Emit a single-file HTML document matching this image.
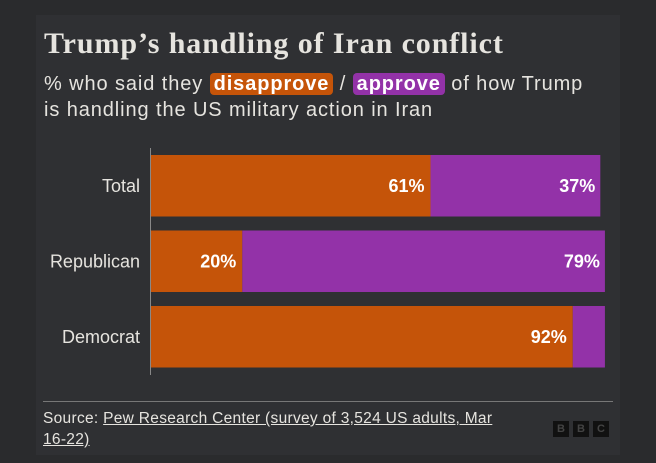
<!DOCTYPE html>
<html><head><meta charset="utf-8"><style>
body{margin:0;width:656px;height:463px;background:#2a2b2d;overflow:hidden;font-family:"Liberation Sans",sans-serif;color:#e6e4df}
#panel{position:absolute;left:36px;top:15px;width:584px;height:440px;background:#2f3033}
#title{position:absolute;left:8px;top:12px;font-family:"Liberation Serif",serif;font-size:30px;font-weight:bold;letter-spacing:0.9px;white-space:nowrap}
#sub{position:absolute;left:8px;top:56px;font-size:20px;line-height:26px;letter-spacing:0.9px;width:580px;white-space:nowrap}
.pill{color:#fff;font-weight:bold;padding:0 4px;border-radius:4px}
#src{position:absolute;left:7px;top:393px;font-size:15.5px;line-height:21px;letter-spacing:0.3px;width:500px;white-space:nowrap}
#src u{text-decoration:underline}
#rule{position:absolute;left:7px;top:386px;width:570px;height:1px;background:#777}
.b{position:absolute;top:406px;width:16px;height:16px;background:#111;color:#444;font-size:11px;font-weight:bold;text-align:center;line-height:16px}
</style></head><body>
<div id="panel">
<div id="title">Trump’s handling of Iran conflict</div>
<div id="sub">% who said they <span class="pill" style="background:#c55409">disapprove</span> / <span class="pill" style="background:#9332a8">approve</span> of how Trump<br>is handling the US military action in Iran</div>
<div id="rule"></div>
<div id="src">Source: <u>Pew Research Center (survey of 3,524 US adults, Mar<br>16-22)</u></div>
<div class="b" style="left:517px">B</div>
<div class="b" style="left:537px">B</div>
<div class="b" style="left:557px">C</div>
</div>
<svg id="chart" width="656" height="463" style="position:absolute;left:0;top:0"></svg>
<script>
const categories=["Total","Republican","Democrat"];
const disapprove=[61,20,92];
const approve=[37,79,7];
const NS="http://www.w3.org/2000/svg";
const svg=document.getElementById('chart');
const x0=150.5,unit=4.59;
const xs=v=>x0+v*unit;
const yTop=i=>155+i*75.5, bh=61.5;
function mk(tag,attrs){const e=document.createElementNS(NS,tag);for(const k in attrs)e.setAttribute(k,attrs[k]);svg.appendChild(e);return e;}
categories.forEach((c,i)=>{
  const y=yTop(i);
  const r1=mk('rect',{x:xs(0),y:y,width:xs(disapprove[i])-xs(0),height:bh,fill:'#c55409'});
  
  
  const r2=mk('rect',{x:xs(disapprove[i]),y:y,width:xs(disapprove[i]+approve[i])-xs(disapprove[i]),height:bh,fill:'#9332a8'});
  
  
  const t=mk('text',{x:140,y:y+bh/2+6,'text-anchor':'end',fill:'#e6e4df','font-size':'18','font-family':'Liberation Sans, sans-serif'});
  t.textContent=c;
  
  
  const l1=mk('text',{x:xs(disapprove[i])-6,y:y+bh/2+6,'text-anchor':'end',fill:'#fff','font-size':'18','font-weight':'bold','font-family':'Liberation Sans, sans-serif'});
  l1.textContent=disapprove[i]+'%';
  
  
  if(approve[i]>=15){
    const l2=mk('text',{x:xs(disapprove[i]+approve[i])-5,y:y+bh/2+6,'text-anchor':'end',fill:'#fff','font-size':'18','font-weight':'bold','font-family':'Liberation Sans, sans-serif'});
    l2.textContent=approve[i]+'%';
    
    
  }
});
const ax=mk('line',{x1:x0,x2:x0,y1:148,y2:375,stroke:'#888','stroke-width':1});


</script>
</body></html>
